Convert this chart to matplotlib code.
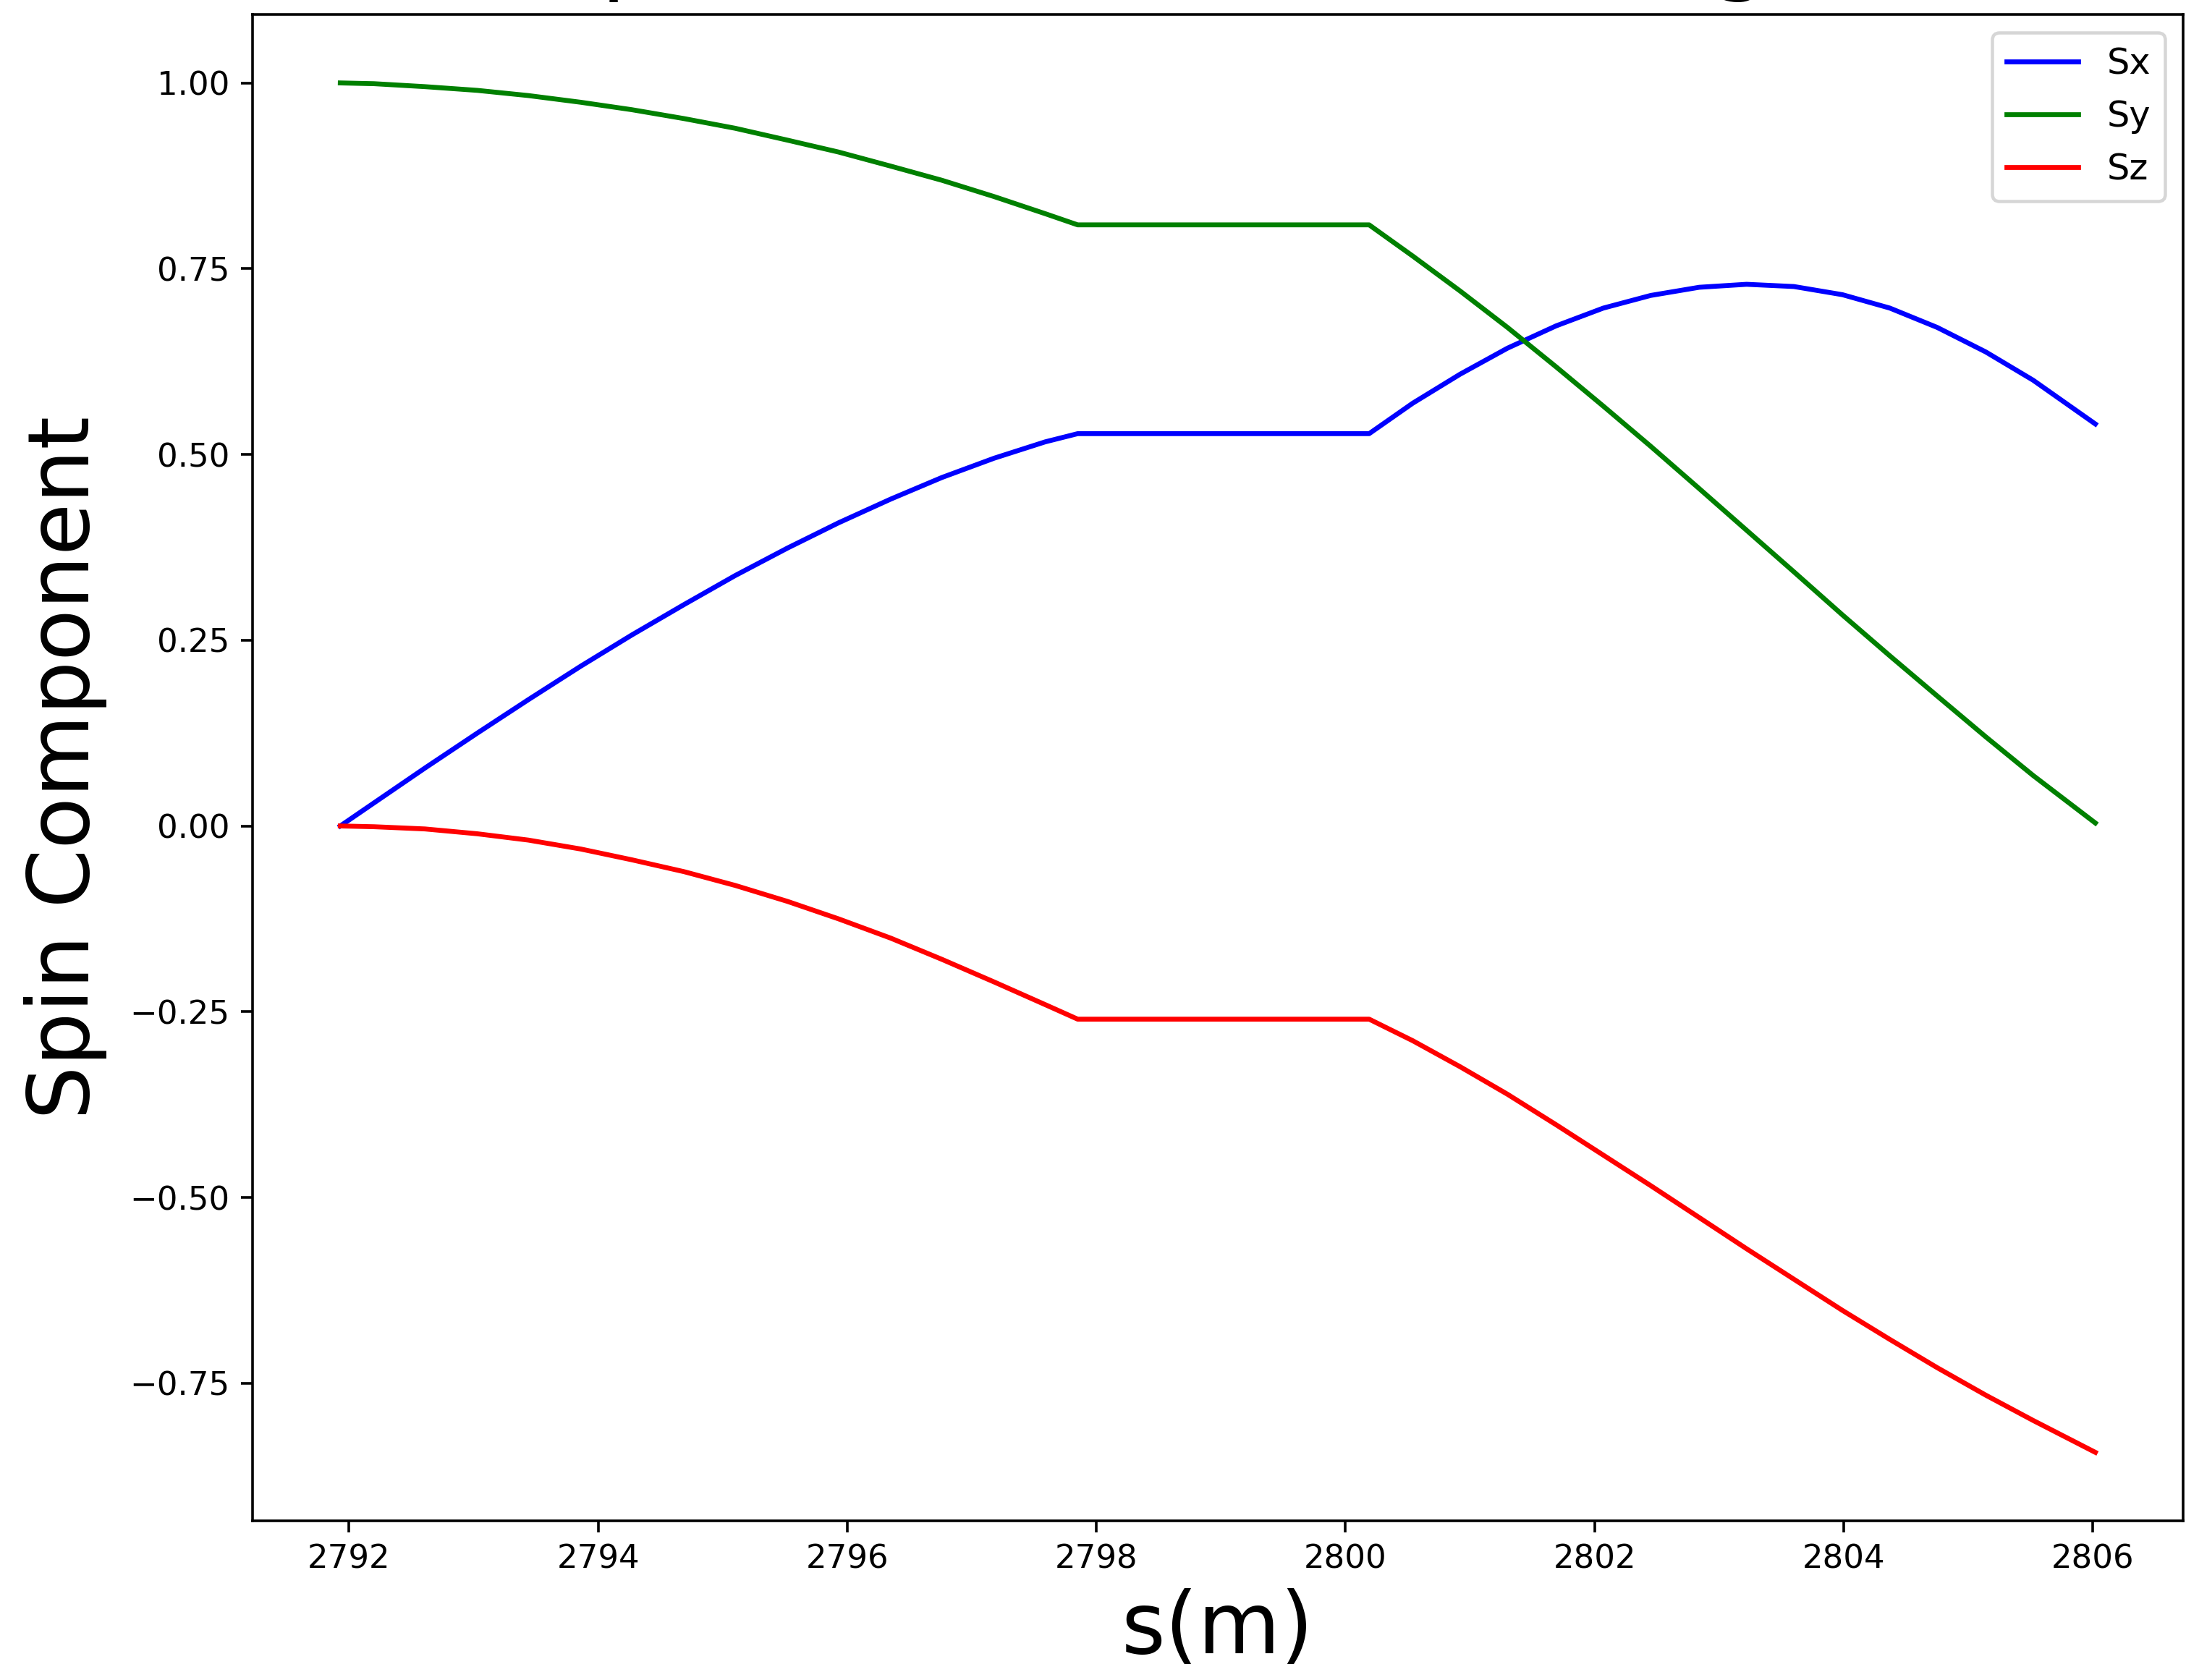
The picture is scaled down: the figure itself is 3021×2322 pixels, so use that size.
import matplotlib
matplotlib.use("Agg")
import matplotlib.pyplot as plt

# Spin components along s
# (rotation section, drift section with flat values, second rotation section)
s = [2791.93, 2792.20, 2792.61, 2793.03, 2793.44, 2793.86, 2794.27, 2794.69,
     2795.10, 2795.52, 2795.93, 2796.35, 2796.76, 2797.18, 2797.59, 2797.85,
     2800.19, 2800.54, 2800.92, 2801.30, 2801.69, 2802.07, 2802.45, 2802.84,
     2803.22, 2803.60, 2803.99, 2804.37, 2804.75, 2805.14, 2805.52, 2806.02]

sx = [0.0, 0.031, 0.078, 0.125, 0.170, 0.215, 0.257, 0.298,
      0.337, 0.374, 0.408, 0.440, 0.469, 0.495, 0.517, 0.528,
      0.528, 0.569, 0.608, 0.643, 0.673, 0.697, 0.714, 0.725,
      0.729, 0.726, 0.715, 0.697, 0.671, 0.638, 0.600, 0.541]

sy = [1.0, 0.999, 0.995, 0.990, 0.983, 0.974, 0.964, 0.952,
      0.939, 0.923, 0.907, 0.888, 0.869, 0.847, 0.824, 0.809,
      0.809, 0.767, 0.720, 0.671, 0.618, 0.565, 0.511, 0.454,
      0.398, 0.342, 0.284, 0.229, 0.175, 0.120, 0.068, 0.004]

sz = [0.0, -0.001, -0.004, -0.0105, -0.019, -0.031, -0.0455, -0.0615,
      -0.080, -0.1015, -0.125, -0.151, -0.1795, -0.210, -0.2405, -0.260,
      -0.260, -0.289, -0.324, -0.361, -0.402, -0.443, -0.484, -0.527,
      -0.569, -0.610, -0.652, -0.691, -0.729, -0.766, -0.800, -0.843]

dpi = 324
fig = plt.figure(figsize=(3022 / dpi, 2322 / dpi), dpi=dpi)
ax = fig.add_axes([349 / 3022, 1 - 2102 / 2322, 2668 / 3022, 2082 / 2322])

ax.plot(s, sx, "b", label="Sx")
ax.plot(s, sy, "g", label="Sy")
ax.plot(s, sz, "r", label="Sz")

# title sits mostly above the saved area, as in the original crop
ax.set_title("Spin Precession in the Magnet", fontsize=28, pad=9.5, x=0.507)
ax.set_xlabel("s(m)", fontsize=26)
ax.set_ylabel("Spin Component", fontsize=26, labelpad=7)
ax.legend(loc="upper right", fontsize=11)

fig.savefig("out.png", dpi=dpi)
